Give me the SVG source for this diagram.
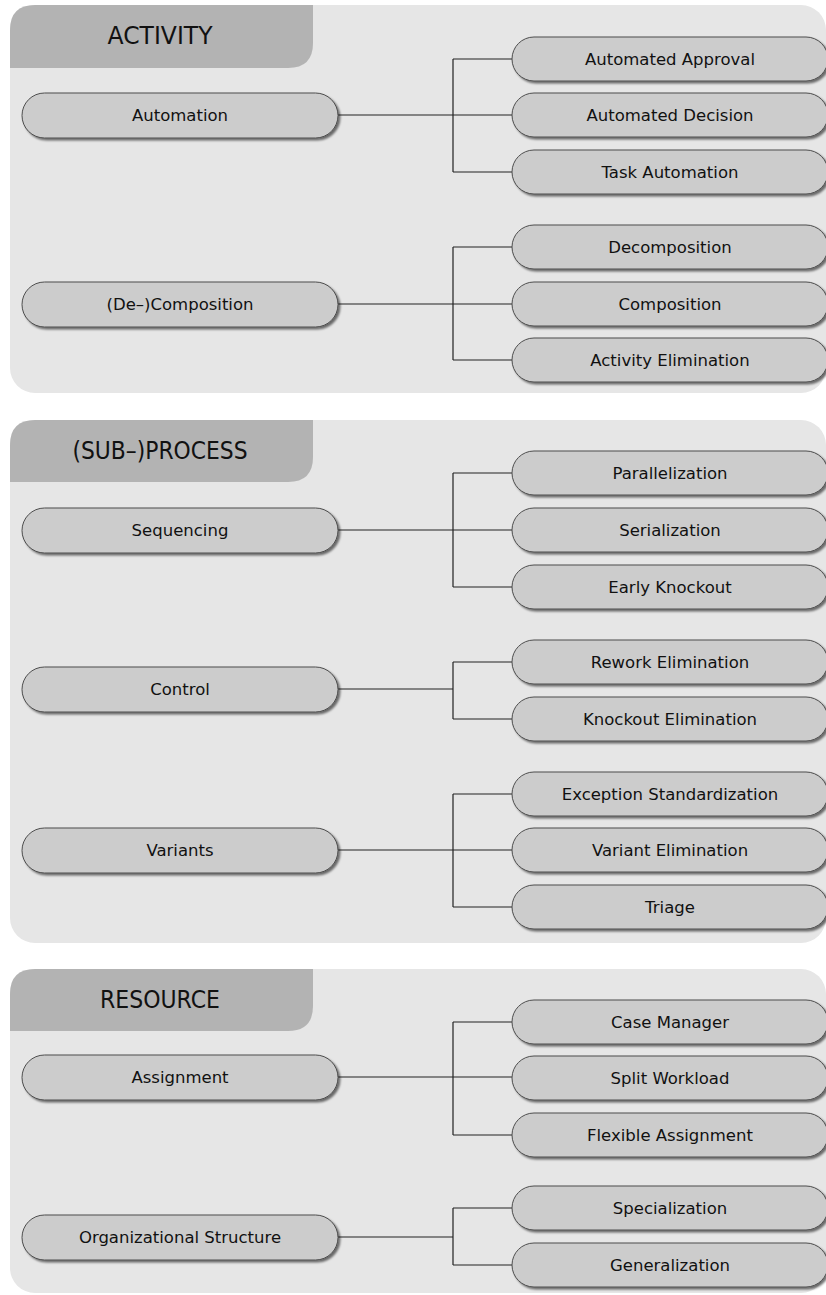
<svg xmlns="http://www.w3.org/2000/svg" width="826" height="1295" viewBox="0 0 826 1295">
<defs>
<filter id="sh" x="-5%" y="-20%" width="115%" height="150%">
<feDropShadow dx="2" dy="2" stdDeviation="1.2" flood-color="#000" flood-opacity="0.55"/>
</filter>
</defs>
<style>
.panel{fill:#e6e6e6}
.tab{fill:#b3b3b3}
.hdr{font-family:"DejaVu Sans",sans-serif;font-size:24px;fill:#111;text-anchor:middle}
.node rect{fill:#cccccc;stroke:#4d4d4d;stroke-width:1;filter:url(#sh)}
.node text{font-family:"DejaVu Sans",sans-serif;font-size:16.5px;fill:#111;text-anchor:middle}
.conn{fill:none;stroke:#222;stroke-width:1.2}
</style>

<g id="panel-activity">
<rect class="panel" x="10" y="5" width="816" height="388" rx="25"/>
<path class="tab" d="M10,68 V30 Q10,5 35,5 H313 V43 Q313,68 288,68 Z"/>
<text class="hdr" x="160" y="44" textLength="105" lengthAdjust="spacingAndGlyphs">ACTIVITY</text>
</g>
<g id="panel-process">
<rect class="panel" x="10" y="420" width="816" height="523" rx="25"/>
<path class="tab" d="M10,482 V445 Q10,420 35,420 H313 V457 Q313,482 288,482 Z"/>
<text class="hdr" x="160" y="459" textLength="175" lengthAdjust="spacingAndGlyphs">(SUB–)PROCESS</text>
</g>
<g id="panel-resource">
<rect class="panel" x="10" y="969" width="816" height="324" rx="25"/>
<path class="tab" d="M10,1031 V994 Q10,969 35,969 H313 V1006 Q313,1031 288,1031 Z"/>
<text class="hdr" x="160" y="1008" textLength="120" lengthAdjust="spacingAndGlyphs">RESOURCE</text>
</g>

<g id="connectors">
<path class="conn" d="M338,115 H512 M453,59 V172 M453,59 H512 M453,172 H512"/>
<path class="conn" d="M338,304 H512 M453,247 V360 M453,247 H512 M453,360 H512"/>
<path class="conn" d="M338,530 H512 M453,473 V587 M453,473 H512 M453,587 H512"/>
<path class="conn" d="M338,689 H453 M453,662 V719 M453,662 H512 M453,719 H512"/>
<path class="conn" d="M338,850 H512 M453,794 V907 M453,794 H512 M453,907 H512"/>
<path class="conn" d="M338,1077 H512 M453,1022 V1135 M453,1022 H512 M453,1135 H512"/>
<path class="conn" d="M338,1237 H453 M453,1208 V1265 M453,1208 H512 M453,1265 H512"/>
</g>

<g id="n-automation" class="node"><rect x="22" y="93" width="316" height="45" rx="22.5"/><text x="180" y="121">Automation</text></g>
<g id="n-automated-approval" class="node"><rect x="512" y="37" width="316" height="44" rx="22"/><text x="670" y="65">Automated Approval</text></g>
<g id="n-automated-decision" class="node"><rect x="512" y="93" width="316" height="44" rx="22"/><text x="670" y="121">Automated Decision</text></g>
<g id="n-task-automation" class="node"><rect x="512" y="150" width="316" height="44" rx="22"/><text x="670" y="178">Task Automation</text></g>

<g id="n-decomposition-group" class="node"><rect x="22" y="282" width="316" height="45" rx="22.5"/><text x="180" y="310">(De–)Composition</text></g>
<g id="n-decomposition" class="node"><rect x="512" y="225" width="316" height="44" rx="22"/><text x="670" y="253">Decomposition</text></g>
<g id="n-composition" class="node"><rect x="512" y="282" width="316" height="44" rx="22"/><text x="670" y="310">Composition</text></g>
<g id="n-activity-elimination" class="node"><rect x="512" y="338" width="316" height="44" rx="22"/><text x="670" y="366">Activity Elimination</text></g>

<g id="n-sequencing" class="node"><rect x="22" y="508" width="316" height="45" rx="22.5"/><text x="180" y="536">Sequencing</text></g>
<g id="n-parallelization" class="node"><rect x="512" y="451" width="316" height="44" rx="22"/><text x="670" y="479">Parallelization</text></g>
<g id="n-serialization" class="node"><rect x="512" y="508" width="316" height="44" rx="22"/><text x="670" y="536">Serialization</text></g>
<g id="n-early-knockout" class="node"><rect x="512" y="565" width="316" height="44" rx="22"/><text x="670" y="593">Early Knockout</text></g>

<g id="n-control" class="node"><rect x="22" y="667" width="316" height="45" rx="22.5"/><text x="180" y="695">Control</text></g>
<g id="n-rework-elimination" class="node"><rect x="512" y="640" width="316" height="44" rx="22"/><text x="670" y="668">Rework Elimination</text></g>
<g id="n-knockout-elimination" class="node"><rect x="512" y="697" width="316" height="44" rx="22"/><text x="670" y="725">Knockout Elimination</text></g>

<g id="n-variants" class="node"><rect x="22" y="828" width="316" height="45" rx="22.5"/><text x="180" y="856">Variants</text></g>
<g id="n-exception-standardization" class="node"><rect x="512" y="772" width="316" height="44" rx="22"/><text x="670" y="800">Exception Standardization</text></g>
<g id="n-variant-elimination" class="node"><rect x="512" y="828" width="316" height="44" rx="22"/><text x="670" y="856">Variant Elimination</text></g>
<g id="n-triage" class="node"><rect x="512" y="885" width="316" height="44" rx="22"/><text x="670" y="913">Triage</text></g>

<g id="n-assignment" class="node"><rect x="22" y="1055" width="316" height="45" rx="22.5"/><text x="180" y="1083">Assignment</text></g>
<g id="n-case-manager" class="node"><rect x="512" y="1000" width="316" height="44" rx="22"/><text x="670" y="1028">Case Manager</text></g>
<g id="n-split-workload" class="node"><rect x="512" y="1056" width="316" height="44" rx="22"/><text x="670" y="1084">Split Workload</text></g>
<g id="n-flexible-assignment" class="node"><rect x="512" y="1113" width="316" height="44" rx="22"/><text x="670" y="1141">Flexible Assignment</text></g>

<g id="n-organizational-structure" class="node"><rect x="22" y="1215" width="316" height="45" rx="22.5"/><text x="180" y="1243">Organizational Structure</text></g>
<g id="n-specialization" class="node"><rect x="512" y="1186" width="316" height="44" rx="22"/><text x="670" y="1214">Specialization</text></g>
<g id="n-generalization" class="node"><rect x="512" y="1243" width="316" height="44" rx="22"/><text x="670" y="1271">Generalization</text></g>
</svg>
